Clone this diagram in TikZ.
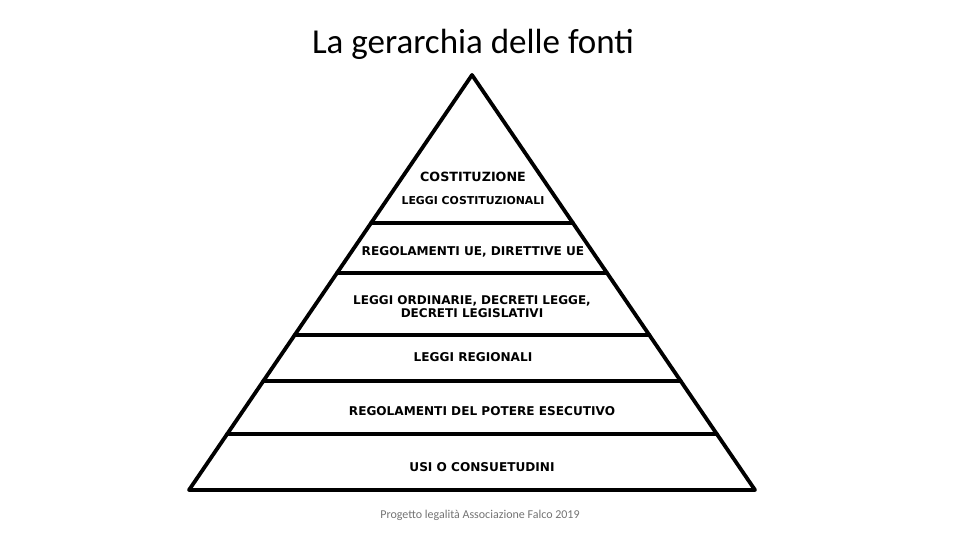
\documentclass[tikz,border=0pt]{standalone}
\usepackage{fontspec}
\setmainfont{Carlito}
\newfontfamily\lblfont{DejaVu Sans}
\begin{document}
\begin{tikzpicture}[x=1pt,y=-1pt,
  edge/.style={line width=3.8pt,line join=round,line cap=round},
  lbl/.style={font=\lblfont\bfseries\fontsize{12.1}{14}\selectfont,align=center,inner sep=0pt},
  title/.style={font=\fontsize{35}{40}\selectfont,inner sep=0pt},
  foot/.style={font=\fontsize{12}{14}\selectfont,text=black!55,inner sep=0pt}]
\useasboundingbox (0,0) rectangle (960,540);
\coordinate (apex) at (472,75);
\coordinate (bl) at (189,490);
\coordinate (br) at (755,490);
\draw[edge] (bl) -- (apex) -- (br) -- cycle;
% separators
\foreach \yy/\nm in {223/a,273/b,335/c,381/d,434/e}{
  \path (apex) -- (bl) coordinate[pos={(\yy-75)/415}] (l\nm);
  \path (apex) -- (br) coordinate[pos={(\yy-75)/415}] (r\nm);
  \draw[edge] (l\nm) -- (r\nm);
}
\node[title] (t) at (473,44) {La gerarchia delle fonti};
\node[lbl,font=\lblfont\bfseries\fontsize{12.7}{15}\selectfont] (c1) at (473,177) {COSTITUZIONE};
\node[lbl,font=\lblfont\bfseries\fontsize{10.9}{13}\selectfont] (c2) at (473,201) {LEGGI COSTITUZIONALI};
\node[lbl] (n2) at (473,252) {REGOLAMENTI UE, DIRETTIVE UE};
\node[lbl,font=\lblfont\bfseries\fontsize{12}{13}\selectfont] (n3) at (472,307) {LEGGI ORDINARIE, DECRETI LEGGE,\\DECRETI LEGISLATIVI};
\node[lbl] (n4) at (473,357) {LEGGI REGIONALI};
\node[lbl] (n5) at (482,411) {REGOLAMENTI DEL POTERE ESECUTIVO};
\node[lbl] (n6) at (482,467) {USI O CONSUETUDINI};
\node[foot] (f) at (480,515) {Progetto legalità Associazione Falco 2019};
\end{tikzpicture}
\end{document}
